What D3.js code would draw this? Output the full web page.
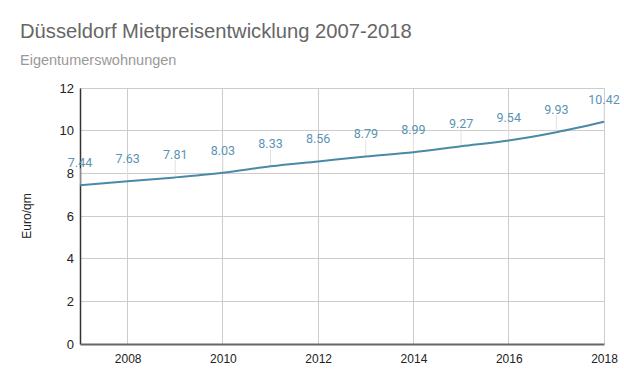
<!DOCTYPE html>
<html><head><meta charset="utf-8">
<script src="https://cdn.jsdelivr.net/npm/d3@7/dist/d3.min.js"></script>
<style>body{margin:0;background:#fff}svg{display:block}</style>
</head><body>
<svg id="c" width="624" height="385"></svg>
<script>
const years = [2007,2008,2009,2010,2011,2012,2013,2014,2015,2016,2017,2018];
const values = [7.44,7.63,7.81,8.03,8.33,8.56,8.79,8.99,9.27,9.54,9.93,10.42];
const yTicks = [0,2,4,6,8,10,12];
const xTicks = [2008,2010,2012,2014,2016,2018];
const title = "Düsseldorf Mietpreisentwicklung 2007-2018";
const subtitle = "Eigentumerswohnungen";
const yTitle = "Euro/qm";

const svg = d3.select("#c");
const x = d3.scaleLinear().domain([2007,2018]).range([80, 604]);
const y = d3.scaleLinear().domain([0,12]).range([344, 88]);

svg.append("text").attr("x",20).attr("y",38).attr("font-family","Arial, 'Liberation Sans', sans-serif")
  .attr("font-size",20.2).attr("fill","#666").text(title);
svg.append("text").attr("x",20).attr("y",65).attr("font-family","Arial, 'Liberation Sans', sans-serif")
  .attr("font-size",14.5).attr("fill","#999").text(subtitle);

const grid = svg.append("g");
grid.selectAll(".h").data(yTicks.filter(d=>d>0)).join("line")
  .attr("x1",x(2007)).attr("x2",x(2018)).attr("y1",d=>y(d)).attr("y2",d=>y(d))
  .attr("stroke","#cccccc").attr("stroke-width",1).attr("shape-rendering","crispEdges");
grid.selectAll(".v").data(xTicks).join("line")
  .attr("x1",d=>x(d)).attr("x2",d=>x(d)).attr("y1",y(12)).attr("y2",y(0))
  .attr("stroke","#cccccc").attr("stroke-width",1).attr("shape-rendering","crispEdges");

// y axis
const ya = d3.axisLeft(y).tickValues(yTicks).tickSize(0).tickPadding(6);
const yg = svg.append("g").attr("transform",`translate(${x(2007)},0)`).call(ya);
yg.select(".domain").attr("stroke","#333").attr("stroke-width",1.5);
yg.selectAll("text").attr("font-family","Arial, 'Liberation Sans', sans-serif").attr("font-size",13).attr("fill","#222");

// x axis
const xa = d3.axisBottom(x).tickValues(xTicks).tickFormat(d3.format("d")).tickSize(0).tickPadding(10);
const xg = svg.append("g").attr("transform",`translate(0,${y(0)})`).call(xa);
xg.select(".domain").attr("stroke","#666").attr("stroke-width",2);
xg.selectAll("text").attr("font-family","Arial, 'Liberation Sans', sans-serif").attr("font-size",12).attr("fill","#222");

svg.append("text").attr("transform",`translate(31,${(y(0)+y(12))/2}) rotate(-90)`)
  .attr("text-anchor","middle").attr("font-family","Arial, 'Liberation Sans', sans-serif")
  .attr("font-size",12).attr("fill","#222").text(yTitle);

const data = years.map((d,i)=>({year:d, v:values[i]}));

// stems
svg.append("g").selectAll("line").data(data).join("line")
  .attr("x1",d=>x(d.year)).attr("x2",d=>x(d.year))
  .attr("y1",d=>y(d.v)-1).attr("y2",d=>y(d.v)-17)
  .attr("stroke","#e2e2e2").attr("stroke-width",1);

const line = d3.line().x(d=>x(d.year)).y(d=>y(d.v)).curve(d3.curveMonotoneX);
svg.append("path").datum(data).attr("d",line).attr("fill","none")
  .attr("stroke","#4a89a8").attr("stroke-width",2);

svg.append("g").selectAll("text").data(data).join("text")
  .attr("x",d=>x(d.year)).attr("y",d=>y(d.v)-18).attr("text-anchor","middle")
  .attr("font-family","Roboto, Arial, sans-serif").attr("font-size",12.5)
  .attr("fill","#5b93b3").text(d=>d.v.toFixed(2));
</script>
</body></html>
